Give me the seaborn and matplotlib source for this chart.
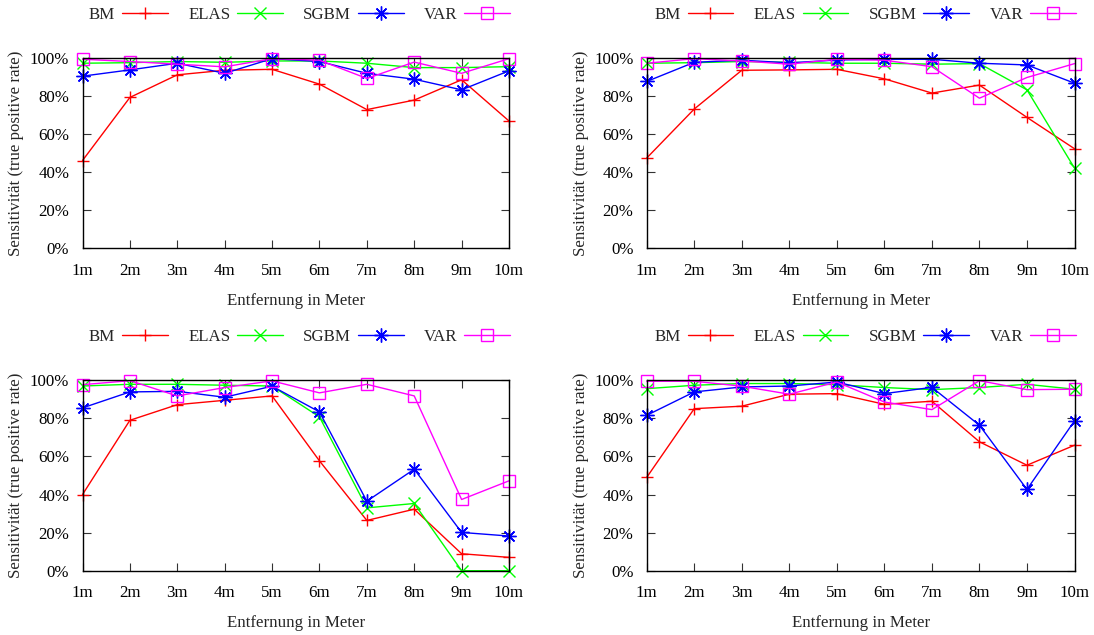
import matplotlib
matplotlib.use("Agg")
import matplotlib.pyplot as plt
from matplotlib.lines import Line2D
from matplotlib.ticker import FixedLocator
import seaborn as sns
import pandas as pd

distances = ["1m", "2m", "3m", "4m", "5m", "6m", "7m", "8m", "9m", "10m"]
methods = ["BM", "ELAS", "SGBM", "VAR"]

# panel 1 (top left)
p1_bm = [46.2, 79.4, 91.3, 93.7, 94.2, 86.4, 73.0, 78.0, 88.7, 67.0]
p1_elas = [97.4, 97.7, 98.3, 97.9, 98.6, 98.6, 97.4, 95.1, 95.1, 95.6]
p1_sgbm = [90.6, 93.9, 97.4, 92.1, 99.8, 98.3, 92.1, 89.0, 83.4, 93.4]
p1_var = [99.5, 98.3, 96.9, 95.5, 99.8, 99.0, 89.4, 98.0, 92.1, 99.8]

# panel 2 (top right)
p2_bm = [47.5, 73.3, 93.7, 93.9, 94.2, 89.2, 81.7, 85.9, 68.9, 52.4]
p2_elas = [97.4, 97.7, 98.3, 97.9, 97.4, 97.4, 96.9, 97.2, 83.4, 42.2]
p2_sgbm = [87.8, 97.9, 99.0, 97.6, 99.1, 99.5, 99.5, 97.4, 96.5, 86.9]
p2_var = [97.4, 99.8, 98.6, 96.9, 99.5, 99.0, 95.6, 79.0, 89.9, 97.2]

# panel 3 (bottom left)
p3_bm = [40.0, 79.0, 87.2, 89.5, 91.8, 57.7, 26.4, 32.3, 8.9, 7.0]
p3_elas = [97.0, 97.9, 97.9, 97.4, 97.0, 80.8, 33.0, 35.3, 0.0, 0.0]
p3_sgbm = [85.5, 93.9, 94.2, 91.1, 96.9, 83.4, 36.5, 53.3, 20.1, 18.2]
p3_var = [97.7, 99.8, 91.8, 96.2, 99.7, 93.4, 97.9, 91.8, 37.4, 47.2]

# panel 4 (bottom right)
p4_bm = [49.0, 85.1, 86.4, 92.7, 93.0, 87.4, 89.0, 67.7, 55.4, 65.9]
p4_elas = [95.6, 97.4, 98.3, 98.3, 97.7, 96.2, 95.1, 96.2, 97.9, 95.3]
p4_sgbm = [81.6, 93.9, 96.5, 97.0, 99.1, 93.0, 96.3, 76.4, 42.7, 78.7]
p4_var = [99.5, 99.5, 96.9, 92.7, 99.1, 88.6, 84.6, 99.8, 95.1, 95.3]

y_ticks = [0, 20, 40, 60, 80, 100]
y_tick_labels = ["0%", "20%", "40%", "60%", "80%", "100%"]
x_label = "Entfernung in Meter"
y_label = "Sensitivität (true positive rate)"

panels = [
    [p1_bm, p1_elas, p1_sgbm, p1_var],
    [p2_bm, p2_elas, p2_sgbm, p2_var],
    [p3_bm, p3_elas, p3_sgbm, p3_var],
    [p4_bm, p4_elas, p4_sgbm, p4_var],
]

colors = {"BM": "#ff0000", "ELAS": "#00ff00", "SGBM": "#0000ff", "VAR": "#ff00ff"}
markers = {"BM": "+", "ELAS": "x", "SGBM": (8, 2, 0), "VAR": "s"}
msizes = {"BM": 9, "ELAS": 9, "SGBM": 10, "VAR": 8}

sns.set_theme(style="ticks")
plt.rcParams["font.family"] = ["Liberation Serif", "DejaVu Serif"]

FS = 12.2
fig = plt.figure(figsize=(10.94, 6.35), dpi=100)

W, H = 1094.0, 635.0
boxes = [
    (82.5, 58.3, 509.0, 248.3),
    (646.7, 58.3, 1074.5, 248.3),
    (82.5, 380.3, 509.0, 570.7),
    (646.7, 380.3, 1074.5, 570.7),
]

for series, (l, t, r, b) in zip(panels, boxes):
    ax = fig.add_axes([l / W, 1 - b / H, (r - l) / W, (b - t) / H])
    rows = []
    for m, vals in zip(methods, series):
        for i, v in enumerate(vals):
            rows.append({"pos": i, "value": v, "method": m})
    df = pd.DataFrame(rows)
    for m in methods:
        sub = df[df["method"] == m]
        sns.lineplot(
            data=sub, x="pos", y="value", ax=ax, color=colors[m],
            marker=markers[m], markersize=msizes[m],
            markeredgewidth=1.0, linewidth=1.0, sort=False,
            markerfacecolor="none" if m == "VAR" else colors[m],
            markeredgecolor=colors[m], legend=False, clip_on=False,
        )
    ax.set_xlim(0, len(distances) - 1)
    ax.set_ylim(0, 100)
    ax.xaxis.set_major_locator(FixedLocator(list(range(len(distances)))))
    ax.set_xticklabels(distances, fontsize=FS)
    ax.set_yticks(y_ticks)
    ax.set_yticklabels(y_tick_labels, fontsize=FS)
    ax.tick_params(direction="in", top=True, right=True, length=6, width=0.8,
                   colors="#333333", labelcolor="black")
    ax.tick_params(axis="x", pad=10.5)
    ax.tick_params(axis="y", pad=9.5)
    for s in ax.spines.values():
        s.set_linewidth(1.0)
        s.set_color("black")
        s.set_visible(True)
    ax.set_xlabel(x_label, fontsize=FS, labelpad=10)
    ax.set_ylabel(y_label, fontsize=FS, labelpad=4)

    handles = [
        Line2D([0], [0], color=colors[m], marker=markers[m], lw=1.0,
               markersize=msizes[m], markeredgewidth=1.0,
               markerfacecolor="none" if m == "VAR" else colors[m])
        for m in methods
    ]
    leg = ax.legend(handles, methods, ncol=4, frameon=False, markerfirst=False,
                    loc="center right", fontsize=FS, handlelength=2.7,
                    handletextpad=0.4, columnspacing=1.2, borderpad=0,
                    borderaxespad=0)
    leg.set_bbox_to_anchor(((r + 1) / W, 1 - (t - 43) / H), transform=fig.transFigure)

fig.savefig("out.png", dpi=100)
